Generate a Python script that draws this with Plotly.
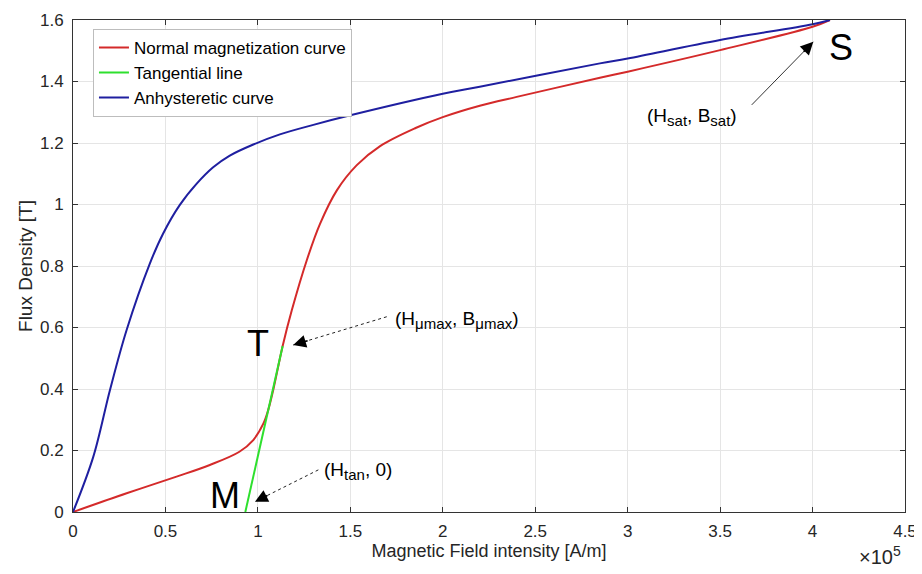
import plotly.graph_objects as go

# ---- data (H in A/m, B in T) ----
H_normal = [0, 29000, 56000, 74000, 90000, 97500, 103000, 105600, 108300, 113400, 118300,
            126400, 133600, 142700, 153500, 166100, 185000, 200000, 220000, 240000, 285000,
            300000, 350000, 400000, 409400]
B_normal = [0, 0.061, 0.115, 0.153, 0.196, 0.234, 0.288, 0.332, 0.397, 0.54, 0.655,
            0.818, 0.937, 1.046, 1.128, 1.19, 1.248, 1.284, 1.321, 1.35, 1.412,
            1.432, 1.502, 1.578, 1.6]

H_tangent = [93200, 113400]
B_tangent = [0, 0.54]

H_anhyst = [0, 11000, 20000, 29000, 41500, 48700, 57700, 66800, 75800, 84800, 97500,
            111900, 130000, 150000, 200000, 220000, 285000, 300000, 350000, 400000, 409400]
B_anhyst = [0, 0.18, 0.397, 0.592, 0.807, 0.905, 0.998, 1.067, 1.121, 1.159, 1.195,
            1.228, 1.259, 1.29, 1.36, 1.383, 1.459, 1.475, 1.535, 1.586, 1.6]

x_tick_vals = [0, 50000, 100000, 150000, 200000, 250000, 300000, 350000, 400000, 450000]
x_tick_text = ["0", "0.5", "1", "1.5", "2", "2.5", "3", "3.5", "4", "4.5"]
y_tick_vals = [0, 0.2, 0.4, 0.6, 0.8, 1.0, 1.2, 1.4, 1.6]
y_tick_text = ["0", "0.2", "0.4", "0.6", "0.8", "1", "1.2", "1.4", "1.6"]

series_names = ["Normal magnetization curve", "Tangential line", "Anhysteretic curve"]

FONT = "Liberation Sans, Arial, sans-serif"
TXT = "#262626"

fig = go.Figure()
fig.add_trace(go.Scatter(x=H_normal, y=B_normal, mode="lines", name=series_names[0],
                         line=dict(color="#d42a2a", width=2, shape="spline", smoothing=1.0)))
fig.add_trace(go.Scatter(x=H_tangent, y=B_tangent, mode="lines", name=series_names[1],
                         line=dict(color="#2ee02e", width=2)))
fig.add_trace(go.Scatter(x=H_anhyst, y=B_anhyst, mode="lines", name=series_names[2],
                         line=dict(color="#1f1fa0", width=2, shape="spline", smoothing=1.0)))

annotations = []
shapes = []

# big point letters
for txt, x, y in [("T", 100000, 0.548), ("M", 82000, 0.054), ("S", 415500, 1.512)]:
    annotations.append(dict(x=x, y=y, xref="x", yref="y", text=txt, showarrow=False,
                            font=dict(family=FONT, size=36, color="black")))


def sub(s):
    return "<sub><span style='font-size:15px'>" + s + "</span></sub>"


labels = [
    ("(H" + sub("\u03bcmax") + ", B" + sub("\u03bcmax") + ")", 173000, 0.625),
    ("(H" + sub("tan") + ", 0)", 134500, 0.132),
    ("(H" + sub("sat") + ", B" + sub("sat") + ")", 309400, 1.283),
]
for txt, x, y in labels:
    annotations.append(dict(x=x, y=y, xref="x", yref="y", text=txt, showarrow=False,
                            xanchor="left", yanchor="middle",
                            font=dict(family=FONT, size=19, color="black")))

# arrows: (tail, head, dotted?, fraction for head segment)
arrows = [
    ((169700, 0.635), (119100, 0.543), True, 0.17),
    ((132700, 0.137), (98400, 0.0335), True, 0.22),
    ((367100, 1.324), (400400, 1.529), False, 0.18),
]
for (tx, ty), (hx, hy), dotted, frac in arrows:
    shapes.append(dict(type="line", xref="x", yref="y", x0=tx, y0=ty, x1=hx, y1=hy,
                       line=dict(color="#222" if dotted else "#333", width=1,
                                 dash="dot" if dotted else "solid")))
    bx = hx + frac * (tx - hx)
    by = hy + frac * (ty - hy)
    annotations.append(dict(x=hx, y=hy, ax=bx, ay=by, xref="x", yref="y", axref="x", ayref="y",
                            text="", showarrow=True, arrowhead=2, arrowsize=1.6,
                            arrowwidth=1.6, arrowcolor="black"))

# x10^5 exponent label
annotations.append(dict(x=0.9976, y=-0.0885, xref="paper", yref="paper", xanchor="right",
                        yanchor="middle", showarrow=False,
                        text="\u00d710<sup>5</sup>",
                        font=dict(family=FONT, size=20, color=TXT)))

fig.update_layout(
    width=914, height=566,
    margin=dict(l=65, r=17, t=12, b=62),
    paper_bgcolor="white", plot_bgcolor="white",
    font=dict(family=FONT, size=17, color=TXT),
    showlegend=True,
    legend=dict(x=0.024, y=0.982, xanchor="left", yanchor="top",
                bgcolor="white", bordercolor="#bdbdbd", borderwidth=1,
                font=dict(family=FONT, size=17, color="black"),
                itemwidth=30, tracegroupgap=0),
    annotations=annotations,
    shapes=shapes,
)
fig.update_xaxes(range=[0, 450000], tickvals=x_tick_vals, ticktext=x_tick_text,
                 automargin=False, ticklabelstandoff=4,
                 showgrid=True, gridcolor="#e5e5e5", gridwidth=1,
                 showline=True, linecolor="#333", linewidth=1, mirror="ticks",
                 ticks="inside", ticklen=5, tickcolor="#333", zeroline=False,
                 title=dict(text="Magnetic Field intensity [A/m]", standoff=2,
                            font=dict(family=FONT, size=18, color=TXT)),
                 tickfont=dict(family=FONT, size=17, color=TXT))
fig.update_yaxes(range=[0, 1.6], tickvals=y_tick_vals, ticktext=y_tick_text,
                 automargin=False, ticklabelstandoff=5,
                 showgrid=True, gridcolor="#e5e5e5", gridwidth=1,
                 showline=True, linecolor="#333", linewidth=1, mirror="ticks",
                 ticks="inside", ticklen=5, tickcolor="#333", zeroline=False,
                 title=dict(text="Flux Density [T]", standoff=2,
                            font=dict(family=FONT, size=19, color=TXT)),
                 tickfont=dict(family=FONT, size=17, color=TXT))

fig.write_html("out.html")
